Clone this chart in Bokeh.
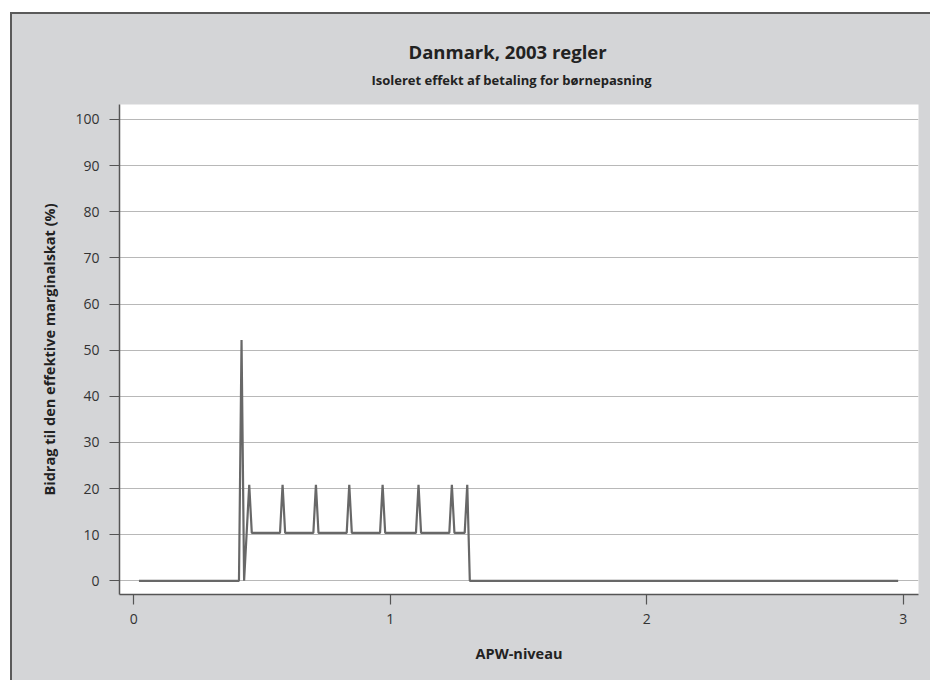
from bokeh.plotting import figure
from bokeh.models import Title, FixedTicker, Range1d
from bokeh.embed import file_html
from bokeh.resources import INLINE

# --- data ---
apw_level = [0.02, 0.41, 0.42, 0.43, 0.45, 0.46, 0.57, 0.58, 0.59, 0.70, 0.71, 0.72,
             0.83, 0.84, 0.85, 0.96, 0.97, 0.98, 1.10, 1.11, 1.12, 1.23, 1.24, 1.25,
             1.29, 1.30, 1.31, 2.98]
contribution = [0, 0, 52.2, 0, 20.8, 10.4, 10.4, 20.8, 10.4, 10.4, 20.8, 10.4,
                10.4, 20.8, 10.4, 10.4, 20.8, 10.4, 10.4, 20.8, 10.4, 10.4, 20.8, 10.4,
                10.4, 20.8, 0, 0]
x_ticks = [0, 1, 2, 3]
y_ticks = [0, 10, 20, 30, 40, 50, 60, 70, 80, 90, 100]

title_text = "Danmark, 2003 regler"
subtitle_text = "Isoleret effekt af betaling for børnepasning"
x_label = "APW-niveau"
y_label = "Bidrag til den effektive marginalskat (%)"

FRAME_BG = "#d4d5d7"
AXIS_COL = "#555555"

p = figure(width=920, height=668,
           x_range=Range1d(-0.0558, 3.0593), y_range=Range1d(-2.97, 103.25),
           output_backend="svg", toolbar_location=None, title=None,
           min_border_left=109, min_border_right=12,
           min_border_top=92, min_border_bottom=86)
p.margin = (12, 0, 0, 10)
p.border_fill_color = None
p.styles = {"background-color": FRAME_BG,
            "box-shadow": "inset 2px 2px 0 0 #5a5a5a"}
p.background_fill_color = "white"
p.outline_line_color = None

p.line(apw_level, contribution, line_color="#686868", line_width=2.2)

sub = Title(text=subtitle_text, align="left", offset=252, text_font="Open Sans",
            text_font_size="13px", text_font_style="bold", text_color="#222222",
            standoff=32)
p.add_layout(sub, "above")
main = Title(text=title_text, align="left", offset=289, text_font="Open Sans",
             text_font_size="18.5px", text_font_style="bold", text_color="#222222",
             standoff=-22)
p.add_layout(main, "above")

for ax in (p.xaxis, p.yaxis):
    ax.axis_line_color = AXIS_COL
    ax.axis_line_width = 1.5
    ax.major_tick_line_color = AXIS_COL
    ax.major_tick_line_width = 1.2
    ax.major_tick_out = 10
    ax.major_tick_in = 0
    ax.minor_tick_line_color = None
    ax.major_label_text_font = "Open Sans"
    ax.major_label_text_font_size = "14px"
    ax.major_label_text_color = "#333333"
    ax.axis_label_text_font = "Open Sans"
    ax.axis_label_text_font_size = "14.5px"
    ax.axis_label_text_font_style = "bold"
    ax.axis_label_text_color = "#222222"

p.xaxis.ticker = FixedTicker(ticks=x_ticks)
p.yaxis.ticker = FixedTicker(ticks=y_ticks)
p.xaxis.axis_label = x_label
p.yaxis.axis_label = y_label
p.xaxis.major_label_standoff = 9
p.xaxis.axis_label_standoff = 17
p.yaxis.major_label_standoff = 10
p.yaxis.axis_label_standoff = 13

p.xgrid.visible = False
p.ygrid.grid_line_color = "#b8b8b8"
p.ygrid.grid_line_width = 1

open("out.html", "w").write(file_html(p, INLINE))
